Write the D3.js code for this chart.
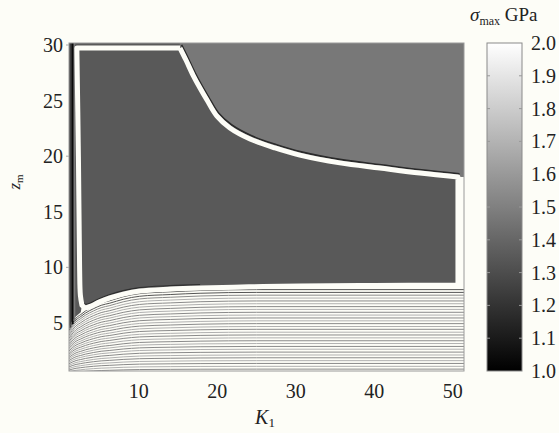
<!DOCTYPE html>
<html><head><meta charset="utf-8">
<script src="https://cdn.jsdelivr.net/npm/d3@7"></script>
<style>body{margin:0;background:#fdfdf7;} svg{display:block;}</style>
</head><body>
<svg id="chart" width="559" height="433"></svg>
<script>
// ---- data ----
const xTicks = [10, 20, 30, 40, 50];
const yTicks = [5, 10, 15, 20, 25, 30];
const yMarkTicks = [10, 20, 30];
const cbTicks = [1.0, 1.1, 1.2, 1.3, 1.4, 1.5, 1.6, 1.7, 1.8, 1.9, 2.0];
const xDomain = [1.1, 51.42];
const yDomain = [0.68, 30.18];
const cbDomain = [1.0, 2.0];
const innerValue = 1.35;   // sigma_max inside the white contour
const outerValue = 1.47;   // sigma_max in upper-right region
// white contour: upper boundary (K, z)
const upperCurve = [
  [15.24, 29.73], [16.0, 28.65], [16.9, 27.3], [17.79, 26.13], [18.68, 25.05],
  [19.95, 23.6], [21.6, 22.54], [24.16, 21.55], [27.34, 20.74], [30.5, 20.1],
  [35.6, 19.4], [40.7, 18.94], [45.8, 18.49], [50.65, 18.13]
];
// white contour: lower boundary, right to left
const lowerCurve = [
  [50.65, 8.42], [40, 8.38], [30.5, 8.33], [24, 8.25], [17.8, 8.15], [14, 8.05],
  [10.1, 7.88], [8, 7.6], [6.3, 7.25], [5.0, 6.9], [4.0, 6.55], [3.2, 6.38], [2.75, 6.6]
];
// white contour: left side, bottom to top
const leftCurve = [[2.55, 7.5], [2.45, 10], [2.3, 20], [2.1, 29.73]];
// bottom-region contour levels (z at large K)
const bottomLevels = [8.0, 7.75, 7.5, 7.24, 6.98, 6.73, 6.47, 6.22, 5.96, 5.71, 5.45, 5.19,
  4.94, 4.68, 4.43, 4.17, 3.92, 3.66, 3.4, 3.15, 2.89, 2.64, 2.38, 2.12, 1.87, 1.61, 1.36, 1.1, 0.85];
// how the bottom contours bend down at small K (fraction of level)
const bendK = [1.1, 1.5, 2.0, 2.6, 3.2, 4.2, 5.2, 6.3, 8, 10.1, 14, 17.8, 25, 51.42];
const bendF = [0.56, 0.62, 0.68, 0.72, 0.76, 0.81, 0.85, 0.875, 0.92, 0.955, 0.975, 0.99, 1.0, 1.0];
// vertical contours in the narrow strip at small K
const stripK = [1.23, 1.55, 1.8];
const stripEndZ = [4.6, 4.9, 5.2];

// ---- drawing ----
const svg = d3.select('#chart');
const W = 559, H = 433;
svg.append('rect').attr('width', W).attr('height', H).attr('fill', '#fdfdf7');

const L = 69, R = 464, T = 43, B = 371;
const x = d3.scaleLinear().domain(xDomain).range([L, R]);
const y = d3.scaleLinear().domain(yDomain).range([B, T]);
const gray = d3.scaleLinear().domain(cbDomain).range(['#000000', '#ffffff']).clamp(true);

const defs = svg.append('defs');
defs.append('clipPath').attr('id', 'plotclip').append('rect')
  .attr('x', L).attr('y', T).attr('width', R - L).attr('height', B - T);

const g = svg.append('g').attr('clip-path', 'url(#plotclip)');
const line = d3.line().x(d => x(d[0])).y(d => y(d[1]));
const smooth = d3.line().x(d => x(d[0])).y(d => y(d[1])).curve(d3.curveCatmullRom.alpha(0.5));

// bottom region contour lines
bottomLevels.forEach((zr, i) => {
  const pts = bendK.map((k, j) => [k, zr * bendF[j]]);
  g.append('path').attr('d', d3.line().x(d => x(d[0])).y(d => y(d[1])).curve(d3.curveMonotoneX)(pts))
    .attr('fill', 'none')
    .attr('stroke', i < 2 ? '#555' : (i % 2 === 0 ? '#8a8a8a' : '#b0b0b0'))
    .attr('stroke-width', 1);
});

// dark (inner) fill
const topZ = yDomain[1], rightK = xDomain[1], leftK = xDomain[0];
const darkPoly = [[leftK, topZ], [rightK, topZ], [rightK, upperCurve[upperCurve.length - 1][1]],
  ...lowerCurve,
  [2.6, bottomLevels[0] * 0.745], [2.0, bottomLevels[0] * 0.70], [1.5, bottomLevels[0] * 0.645], [leftK, bottomLevels[0] * 0.585]];
g.append('path').attr('d', line(darkPoly) + 'Z').attr('fill', gray(innerValue));

// light (outer) fill
const lightPoly = [[upperCurve[0][0], topZ], ...upperCurve, [rightK, upperCurve[upperCurve.length - 1][1]], [rightK, topZ]];
g.append('path').attr('d', smooth(lightPoly) + 'Z').attr('fill', gray(outerValue));

// thin dark edge above the white contour
g.append('path').attr('d', smooth(upperCurve)).attr('fill', 'none')
  .attr('stroke', '#2a2a2a').attr('stroke-width', 1.6).attr('transform', 'translate(1.6,-3.2)');
// dark contour hugging inside of lower white curve
g.append('path').attr('d', smooth(lowerCurve.filter(d => d[0] < 22))).attr('fill', 'none')
  .attr('stroke', '#2e2e2e').attr('stroke-width', 1.2).attr('transform', 'translate(0,-3.4)');

// strip contours
stripK.forEach((k, i) => {
  g.append('path').attr('d', line([[k, topZ], [k, stripEndZ[i]]]))
    .attr('fill', 'none')
    .attr('stroke', i === 1 ? '#0a0a0a' : (i === 0 ? '#3a3a3a' : '#7a7a7a'))
    .attr('stroke-width', i === 1 ? 2.2 : 1.6);
});

// white margin on the right
g.append('rect').attr('x', x(upperCurve[upperCurve.length - 1][0])).attr('y', y(upperCurve[upperCurve.length - 1][1]))
  .attr('width', R - x(upperCurve[upperCurve.length - 1][0]))
  .attr('height', y(lowerCurve[0][1]) - y(upperCurve[upperCurve.length - 1][1]))
  .attr('fill', '#fdfdf7');

// white contour loop
const loopD = smooth(upperCurve) + line([upperCurve[upperCurve.length - 1], lowerCurve[0]]).replace('M', 'L')
  + smooth(lowerCurve).replace('M', 'L') + smooth([lowerCurve[lowerCurve.length - 1], ...leftCurve]).replace('M', 'L')
  + line([leftCurve[leftCurve.length - 1], upperCurve[0]]).replace('M', 'L');
g.append('path').attr('d', loopD).attr('fill', 'none').attr('stroke', '#fdfdf7')
  .attr('stroke-width', 5).attr('stroke-linejoin', 'round');

// frame
svg.append('rect').attr('x', L).attr('y', T).attr('width', R - L).attr('height', B - T)
  .attr('fill', 'none').attr('stroke', '#9a9a9a').attr('stroke-width', 1);

const font = "'Liberation Serif', 'Times New Roman', serif";
// y axis labels
svg.append('g').selectAll('text').data(yTicks).join('text')
  .attr('x', 63).attr('y', d => y(d) + 7).attr('text-anchor', 'end')
  .attr('font-family', font).attr('font-size', 20).attr('fill', '#222').text(d => d);
svg.append('g').selectAll('line').data(yMarkTicks).join('line')
  .attr('x1', L - 3).attr('x2', L).attr('y1', d => y(d)).attr('y2', d => y(d))
  .attr('stroke', '#aaa').attr('stroke-width', 1);
// x axis labels
svg.append('g').selectAll('text').data(xTicks).join('text')
  .attr('x', d => x(d)).attr('y', 398).attr('text-anchor', 'middle')
  .attr('font-family', font).attr('font-size', 20).attr('fill', '#222').text(d => d);

// axis titles
const xt = svg.append('text').attr('x', 265).attr('y', 424).attr('text-anchor', 'middle')
  .attr('font-family', font).attr('font-size', 20).attr('fill', '#222');
xt.append('tspan').attr('font-style', 'italic').text('K');
xt.append('tspan').attr('font-size', 13).attr('dy', 3).text('1');

const yt = svg.append('text').attr('transform', 'translate(20,182) rotate(-90)').attr('text-anchor', 'middle')
  .attr('font-family', font).attr('font-size', 17).attr('fill', '#222');
yt.append('tspan').attr('font-style', 'italic').text('z');
yt.append('tspan').attr('font-size', 11).attr('dy', 3).text('m');

// colorbar
const cbx = 487, cbw = 35;
const cb = d3.scaleLinear().domain(cbDomain).range([B, T]);
const grad = defs.append('linearGradient').attr('id', 'cbgrad')
  .attr('x1', 0).attr('y1', 1).attr('x2', 0).attr('y2', 0);
cbTicks.forEach(v => grad.append('stop')
  .attr('offset', (v - cbDomain[0]) / (cbDomain[1] - cbDomain[0])).attr('stop-color', gray(v)));
svg.append('rect').attr('x', cbx).attr('y', T).attr('width', cbw).attr('height', B - T)
  .attr('fill', 'url(#cbgrad)').attr('stroke', '#8a8a8a').attr('stroke-width', 1);
const inner = cbTicks.slice(1, -1);
svg.append('g').selectAll('line.l').data(inner).join('line')
  .attr('x1', cbx).attr('x2', cbx + 3).attr('y1', d => cb(d)).attr('y2', d => cb(d))
  .attr('stroke', '#999');
svg.append('g').selectAll('line.r').data(inner).join('line')
  .attr('x1', cbx + cbw - 3).attr('x2', cbx + cbw).attr('y1', d => cb(d)).attr('y2', d => cb(d))
  .attr('stroke', '#999');
svg.append('g').selectAll('text').data(cbTicks).join('text')
  .attr('x', 531).attr('y', d => cb(d) + 7)
  .attr('font-family', font).attr('font-size', 20).attr('fill', '#222').text(d => d.toFixed(1));

const ct = svg.append('text').attr('x', 470).attr('y', 21)
  .attr('font-family', font).attr('font-size', 19).attr('fill', '#222');
ct.append('tspan').attr('font-style', 'italic').text('σ');
ct.append('tspan').attr('font-size', 12).attr('dy', 4).text('max');
ct.append('tspan').attr('dy', -4).text(' GPa');
</script>
</body></html>
